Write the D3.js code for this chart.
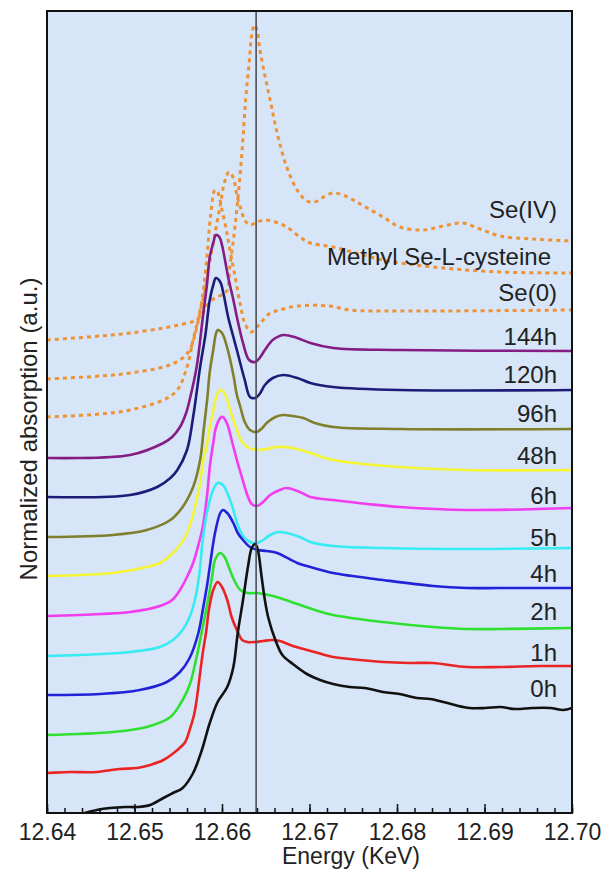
<!DOCTYPE html>
<html>
<head>
<meta charset="utf-8">
<script src="https://cdn.jsdelivr.net/npm/d3@7"></script>
<style>
  body { margin: 0; background: #fff; }
  text { font-family: Arial, "Liberation Sans", sans-serif; fill: #222; }
</style>
</head>
<body>
<div id="chart"></div>
<script>
// Data: [energi (KeV), absorpsi ternormalisasi + offset (a.u.)]
var xTicks = [12.64, 12.65, 12.66, 12.67, 12.68, 12.69, 12.70];
var refLine = 12.6639;

var seIV = [[12.6400,4.73],[12.6461,4.77],[12.6495,4.80],[12.6533,4.85],[12.6560,4.90],[12.6571,4.93],[12.6578,5.00],[12.6586,5.11],[12.6594,5.16],[12.6602,5.19],[12.6606,5.23],[12.6609,5.46],[12.6614,5.80],[12.6618,6.13],[12.6623,6.63],[12.6627,7.13],[12.6631,7.50],[12.6634,7.78],[12.6637,7.88],[12.6640,7.83],[12.6643,7.65],[12.6647,7.46],[12.6655,7.13],[12.6663,6.80],[12.6674,6.46],[12.6686,6.23],[12.6697,6.12],[12.6706,6.11],[12.6714,6.15],[12.6727,6.20],[12.6741,6.17],[12.6752,6.12],[12.6766,6.05],[12.6784,5.96],[12.6803,5.86],[12.6830,5.83],[12.6853,5.87],[12.6875,5.90],[12.6895,5.84],[12.6918,5.77],[12.6955,5.74],[12.7000,5.72]];
var methylSeCys = [[12.6400,4.34],[12.6461,4.37],[12.6495,4.40],[12.6533,4.46],[12.6552,4.53],[12.6563,4.63],[12.6569,4.78],[12.6575,5.01],[12.6581,5.25],[12.6586,5.51],[12.6592,5.80],[12.6598,6.08],[12.6603,6.31],[12.6608,6.41],[12.6613,6.35],[12.6617,6.18],[12.6622,6.03],[12.6626,5.93],[12.6632,5.88],[12.6640,5.91],[12.6649,5.93],[12.6661,5.91],[12.6674,5.86],[12.6689,5.76],[12.6701,5.70],[12.6727,5.66],[12.6784,5.53],[12.6841,5.46],[12.6918,5.41],[12.7000,5.40]];
var se0 = [[12.6400,3.96],[12.6461,3.99],[12.6495,4.03],[12.6533,4.13],[12.6549,4.23],[12.6560,4.46],[12.6567,4.73],[12.6573,4.95],[12.6578,5.18],[12.6583,5.58],[12.6587,5.98],[12.6592,6.23],[12.6595,6.21],[12.6600,6.03],[12.6605,5.83],[12.6609,5.63],[12.6615,5.36],[12.6621,5.08],[12.6626,4.90],[12.6633,4.81],[12.6640,4.86],[12.6647,4.93],[12.6655,5.00],[12.6666,5.03],[12.6686,5.07],[12.6723,5.07],[12.6746,5.03],[12.6803,5.02],[12.7000,5.03]];

var h144 = [[12.6400,3.55],[12.6495,3.58],[12.6533,3.70],[12.6543,3.76],[12.6552,3.86],[12.6559,4.00],[12.6563,4.13],[12.6571,4.46],[12.6578,4.95],[12.6583,5.30],[12.6586,5.56],[12.6590,5.70],[12.6593,5.78],[12.6597,5.76],[12.6600,5.68],[12.6607,5.36],[12.6613,5.13],[12.6617,4.96],[12.6624,4.70],[12.6631,4.53],[12.6638,4.51],[12.6643,4.55],[12.6649,4.63],[12.6658,4.73],[12.6670,4.78],[12.6686,4.75],[12.6701,4.70],[12.6727,4.65],[12.6803,4.63],[12.7000,4.62]];
var h120 = [[12.6400,3.16],[12.6495,3.18],[12.6526,3.26],[12.6541,3.35],[12.6549,3.43],[12.6560,3.63],[12.6567,3.96],[12.6575,4.46],[12.6581,4.78],[12.6586,5.13],[12.6590,5.28],[12.6593,5.35],[12.6598,5.31],[12.6602,5.18],[12.6607,4.96],[12.6613,4.76],[12.6617,4.63],[12.6622,4.46],[12.6626,4.33],[12.6632,4.16],[12.6638,4.15],[12.6643,4.19],[12.6649,4.28],[12.6658,4.35],[12.6670,4.38],[12.6686,4.35],[12.6701,4.30],[12.6727,4.26],[12.6803,4.23],[12.7000,4.23]];
var h96 = [[12.6400,2.76],[12.6475,2.78],[12.6514,2.83],[12.6541,2.93],[12.6555,3.06],[12.6567,3.26],[12.6575,3.53],[12.6579,3.83],[12.6583,4.13],[12.6586,4.41],[12.6590,4.63],[12.6593,4.79],[12.6595,4.83],[12.6600,4.80],[12.6606,4.65],[12.6613,4.38],[12.6617,4.18],[12.6621,4.06],[12.6626,3.91],[12.6632,3.83],[12.6640,3.81],[12.6646,3.85],[12.6651,3.90],[12.6661,3.96],[12.6670,3.98],[12.6681,3.97],[12.6693,3.95],[12.6706,3.90],[12.6727,3.86],[12.6803,3.84],[12.7000,3.84]];
var h48 = [[12.6400,2.37],[12.6475,2.40],[12.6514,2.46],[12.6529,2.50],[12.6544,2.60],[12.6552,2.68],[12.6560,2.80],[12.6566,2.95],[12.6571,3.13],[12.6575,3.30],[12.6578,3.50],[12.6583,3.70],[12.6586,3.86],[12.6590,4.03],[12.6594,4.18],[12.6598,4.23],[12.6602,4.21],[12.6606,4.13],[12.6611,3.98],[12.6617,3.83],[12.6623,3.71],[12.6629,3.66],[12.6640,3.63],[12.6651,3.64],[12.6663,3.66],[12.6681,3.65],[12.6701,3.60],[12.6727,3.53],[12.6803,3.46],[12.6880,3.43],[12.7000,3.43]];
var h6 = [[12.6400,1.97],[12.6461,1.99],[12.6495,2.01],[12.6529,2.07],[12.6543,2.13],[12.6552,2.23],[12.6560,2.36],[12.6567,2.50],[12.6573,2.68],[12.6578,2.86],[12.6583,3.18],[12.6586,3.46],[12.6590,3.70],[12.6593,3.85],[12.6598,3.95],[12.6601,3.96],[12.6606,3.89],[12.6611,3.73],[12.6617,3.53],[12.6623,3.35],[12.6629,3.18],[12.6634,3.09],[12.6640,3.07],[12.6647,3.11],[12.6655,3.18],[12.6666,3.23],[12.6674,3.25],[12.6689,3.21],[12.6701,3.16],[12.6727,3.13],[12.6766,3.09],[12.6803,3.06],[12.6880,3.03],[12.7000,3.05]];
var h5 = [[12.6400,1.57],[12.6461,1.59],[12.6495,1.61],[12.6529,1.66],[12.6544,1.73],[12.6555,1.83],[12.6563,1.96],[12.6569,2.13],[12.6574,2.38],[12.6578,2.73],[12.6583,3.01],[12.6589,3.21],[12.6595,3.30],[12.6601,3.28],[12.6607,3.18],[12.6613,3.03],[12.6618,2.88],[12.6625,2.76],[12.6632,2.71],[12.6640,2.70],[12.6647,2.73],[12.6655,2.78],[12.6664,2.81],[12.6674,2.80],[12.6689,2.76],[12.6701,2.71],[12.6727,2.67],[12.6784,2.65],[12.6861,2.64],[12.7000,2.65]];
var h4 = [[12.6400,1.18],[12.6461,1.19],[12.6506,1.23],[12.6537,1.31],[12.6552,1.41],[12.6563,1.55],[12.6573,1.80],[12.6578,2.03],[12.6583,2.28],[12.6586,2.46],[12.6592,2.80],[12.6598,3.00],[12.6601,3.03],[12.6606,3.00],[12.6613,2.90],[12.6618,2.80],[12.6624,2.73],[12.6632,2.66],[12.6641,2.63],[12.6651,2.62],[12.6663,2.60],[12.6686,2.50],[12.6701,2.46],[12.6727,2.40],[12.6784,2.33],[12.6841,2.27],[12.6880,2.25],[12.6918,2.25],[12.7000,2.25]];
var h2 = [[12.6400,0.78],[12.6475,0.81],[12.6514,0.86],[12.6541,0.96],[12.6555,1.13],[12.6563,1.28],[12.6571,1.56],[12.6578,1.86],[12.6584,2.13],[12.6589,2.38],[12.6592,2.53],[12.6598,2.60],[12.6603,2.56],[12.6609,2.43],[12.6615,2.31],[12.6621,2.23],[12.6629,2.20],[12.6640,2.20],[12.6653,2.18],[12.6666,2.15],[12.6686,2.09],[12.6706,2.03],[12.6727,1.98],[12.6784,1.91],[12.6841,1.86],[12.6880,1.84],[12.6918,1.84],[12.7000,1.85]];
var h1 = [[12.6400,0.40],[12.6426,0.41],[12.6457,0.41],[12.6483,0.44],[12.6503,0.45],[12.6518,0.48],[12.6533,0.53],[12.6549,0.63],[12.6558,0.71],[12.6563,0.83],[12.6568,0.98],[12.6571,1.13],[12.6575,1.40],[12.6578,1.60],[12.6582,1.82],[12.6585,2.03],[12.6590,2.23],[12.6595,2.31],[12.6600,2.26],[12.6606,2.13],[12.6611,1.96],[12.6617,1.83],[12.6623,1.73],[12.6629,1.71],[12.6638,1.71],[12.6647,1.72],[12.6657,1.73],[12.6666,1.72],[12.6678,1.68],[12.6689,1.65],[12.6706,1.61],[12.6727,1.56],[12.6746,1.54],[12.6784,1.51],[12.6815,1.50],[12.6841,1.50],[12.6880,1.46],[12.6918,1.46],[12.6963,1.47],[12.7000,1.47]];
var h0 = [[12.6438,-0.01],[12.6457,0.03],[12.6472,0.05],[12.6489,0.06],[12.6503,0.06],[12.6518,0.08],[12.6533,0.15],[12.6544,0.20],[12.6555,0.25],[12.6567,0.40],[12.6577,0.63],[12.6586,0.90],[12.6595,1.11],[12.6606,1.26],[12.6613,1.46],[12.6618,1.80],[12.6624,2.13],[12.6630,2.48],[12.6634,2.65],[12.6638,2.69],[12.6641,2.63],[12.6645,2.38],[12.6649,2.13],[12.6653,1.95],[12.6661,1.73],[12.6669,1.58],[12.6681,1.49],[12.6697,1.39],[12.6712,1.33],[12.6727,1.29],[12.6746,1.26],[12.6763,1.25],[12.6784,1.21],[12.6803,1.19],[12.6823,1.15],[12.6838,1.14],[12.6853,1.11],[12.6866,1.08],[12.6883,1.05],[12.6901,1.05],[12.6918,1.06],[12.6935,1.04],[12.6955,1.05],[12.6975,1.05],[12.6990,1.03],[12.7000,1.05]];

var seriesNames = ["Se(IV)", "Methyl Se-L-cysteine", "Se(0)", "144h", "120h", "96h", "48h", "6h", "5h", "4h", "2h", "1h", "0h"];
var seriesData = [seIV, methylSeCys, se0, h144, h120, h96, h48, h6, h5, h4, h2, h1, h0];
var seriesColors = ["#ef9135", "#ef9135", "#ef9135", "#841c84", "#1c1c78", "#7f7f2c", "#f4f435", "#f23cf0", "#36ecf2", "#2222d8", "#30e030", "#ea2424", "#111111"];

// Geser label sedikit (pixel) agar sama dengan gambar asli
var labelNudge = { "Se(IV)": -17, "Methyl Se-L-cysteine": -2, "Se(0)": -3, "120h": -1, "96h": -1, "6h": 2, "5h": 4, "2h": -2, "1h": 1, "0h": -5 };

var width = 605, height = 870;
var margin = { top: 11, right: 33, bottom: 57, left: 47 };
var plotW = width - margin.left - margin.right;
var plotH = height - margin.top - margin.bottom;

var svg = d3.select("#chart").append("svg")
  .attr("width", width)
  .attr("height", height);

var x = d3.scaleLinear().domain([12.64, 12.70]).range([0, plotW]);
var y = d3.scaleLinear().domain([0, 8.02]).range([plotH, 0]);

var g = svg.append("g")
  .attr("transform", "translate(" + margin.left + "," + margin.top + ")");

// Latar belakang biru muda
g.append("rect")
  .attr("width", plotW)
  .attr("height", plotH)
  .attr("fill", "#d7e5f8");

g.append("clipPath").attr("id", "clip")
  .append("rect").attr("width", plotW).attr("height", plotH);

var line = d3.line()
  .x(function (d) { return x(d[0]); })
  .y(function (d) { return y(d[1]); })
  .curve(d3.curveCatmullRom.alpha(0.5));

var curves = g.append("g").attr("clip-path", "url(#clip)");

seriesData.forEach(function (data, i) {
  var dashed = i < 3;
  curves.append("path")
    .datum(data)
    .attr("d", line)
    .attr("fill", "none")
    .attr("stroke", seriesColors[i])
    .attr("stroke-width", dashed ? 3 : 2.6)
    .attr("stroke-dasharray", dashed ? "4,4" : null)
    .attr("stroke-linejoin", "round");
});

// Garis vertikal referensi
g.append("line")
  .attr("x1", x(refLine)).attr("x2", x(refLine))
  .attr("y1", 0).attr("y2", plotH)
  .attr("stroke", "#4a4f57")
  .attr("stroke-width", 1.6);

// Label setiap kurva di sisi kanan
seriesData.forEach(function (data, i) {
  var last = data[data.length - 1];
  var name = seriesNames[i];
  g.append("text")
    .attr("x", plotW - (name.length > 10 ? 21 : 15))
    .attr("y", y(last[1]) - 6 + (labelNudge[name] || 0))
    .attr("text-anchor", "end")
    .style("font-size", "24px")
    .text(name);
});

// Sumbu x: tick kecil setiap 0.002, tick besar setiap 0.01
var minorTicks = d3.range(0, 31).map(function (k) { return 12.64 + k * 0.002; });
g.append("g")
  .attr("transform", "translate(0," + plotH + ")")
  .call(d3.axisBottom(x).tickValues(minorTicks).tickSize(-5).tickFormat(""))
  .call(function (a) { a.select(".domain").remove(); a.selectAll("line").attr("stroke", "#111").attr("stroke-width", 1.5); });

g.append("g")
  .attr("transform", "translate(0," + plotH + ")")
  .call(d3.axisBottom(x).tickValues(xTicks).tickSize(-9).tickPadding(11).tickFormat(d3.format(".2f")))
  .call(function (a) {
    a.select(".domain").remove();
    a.selectAll("line").attr("stroke", "#111").attr("stroke-width", 1.5);
    a.selectAll("text").style("font-size", "23px").attr("fill", "#222");
  });

// Bingkai plot
g.append("rect")
  .attr("width", plotW)
  .attr("height", plotH)
  .attr("fill", "none")
  .attr("stroke", "#111")
  .attr("stroke-width", 2);

// Judul sumbu
svg.append("text")
  .attr("x", 351)
  .attr("y", 864)
  .attr("text-anchor", "middle")
  .style("font-size", "23px")
  .text("Energy (KeV)");

svg.append("text")
  .attr("transform", "translate(37," + 429 + ") rotate(-90)")
  .attr("text-anchor", "middle")
  .style("font-size", "24px")
  .text("Normalized absorption (a.u.)");
</script>
</body>
</html>
